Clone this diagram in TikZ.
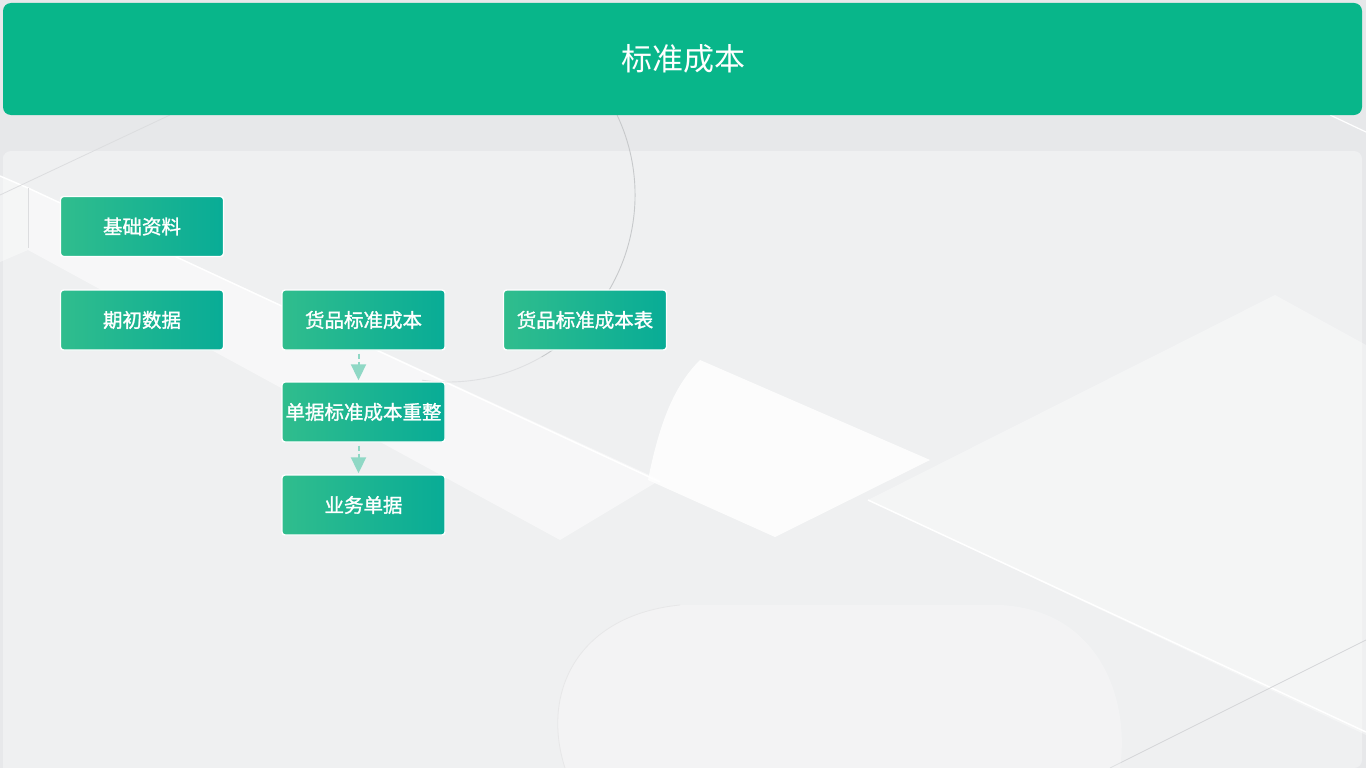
\documentclass[tikz,border=0pt]{standalone}
\usepackage{fontspec}
\usetikzlibrary{arrows.meta}
\newfontfamily\cjk{Noto Sans CJK SC}
\newfontfamily\cjkb[FakeBold=1.3]{Noto Sans CJK SC}
\definecolor{bgbase}{HTML}{E7E8EA}
\definecolor{headgreen}{HTML}{08B68A}
\definecolor{boxleft}{HTML}{30BD8D}
\definecolor{boxright}{HTML}{08AC96}
\definecolor{arrowteal}{HTML}{8FD8C5}
\definecolor{arcgray}{HTML}{B9BBBE}
\tikzset{
  flowbox/.style={rectangle, rounded corners=3pt, draw=white, line width=1.4pt,
    left color=boxleft, right color=boxright, minimum width=163pt, minimum height=60pt,
    inner sep=0pt, text=white, font=\cjkb\fontsize{19.5}{23}\selectfont},
  flowarrow/.style={draw=arrowteal, line width=2pt, dash pattern=on 5pt off 3pt,
    -{Triangle[width=15pt,length=16pt,fill=arrowteal]}},
  deco/.style={fill=white, draw=none}
}
\begin{document}
\begin{tikzpicture}[x=1pt,y=-1pt]
\useasboundingbox (0,0) rectangle (1366,768);
% background
\fill[bgbase] (0,0) rectangle (1366,768);
\fill[white, opacity=0.35] (3,151) [rounded corners=8pt] -- (3,768) -- (3,151) -- (1362,151) -- (1362,768) [sharp corners] -- (3,768) -- cycle;
% white diagonal band
\fill[deco, opacity=0.5] (28,188) -- (660,480) -- (560,540) -- (28,250) -- cycle;
\fill[deco, opacity=0.4] (0,176) -- (28,188) -- (28,250) -- (0,262) -- cycle;
\draw[white, line width=1.5pt] (0,176) -- (28,188) -- (660,482);
\draw[arcgray!50, line width=0.8pt] (28,188) -- (28,248);
\draw[arcgray!50, line width=0.8pt] (170,115) -- (0,195);
% bright diamond
\fill[deco, opacity=0.85] (648,480) .. controls (660,420) and (675,385) .. (700,360) -- (930,460) -- (775,537) -- cycle;
% big right rhombus
\fill[deco, opacity=0.35] (868,500) -- (1275,295) -- (1366,345) -- (1366,735) -- cycle;
\draw[white, line width=1.5pt] (868,500) -- (1366,732);
\draw[arcgray!60, line width=0.8pt] (1366,640) -- (1110,768);
\draw[white, line width=1.2pt] (1330,115) -- (1366,132);
% bottom rounded shape
\fill[white, opacity=0.25] (565,768) .. controls (540,690) and (580,615) .. (680,605) -- (1000,605) .. controls (1100,610) and (1130,700) .. (1120,768) -- cycle;
\draw[arcgray!35, line width=0.8pt] (565,768) .. controls (540,690) and (580,615) .. (680,605);
% circle arc
\coordinate (arcstart) at (617.1,115.1);
\draw[arcgray!80, line width=0.9pt] (arcstart) arc[start angle=-25.3, end angle=60, radius=187];
\draw[arcgray!45, line width=0.9pt] (448,195) ++(60:187) arc[start angle=60, end angle=98, radius=187];
% header
\fill[headgreen] (3,3) [rounded corners=8pt] rectangle (1362,115);
\node (title) at (683,59) {\cjk\fontsize{31}{36}\selectfont\color{white}标准成本};
% boxes
\node[flowbox] (jc) at (142,226.5) {基础资料};
\node[flowbox] (qc) at (142,320) {期初数据};
\node[flowbox] (hp) at (363.5,320) {货品标准成本};
\node[flowbox] (hpb) at (585,320) {货品标准成本表};
\node[flowbox] (dj) at (363.5,412) {单据标准成本重整};
\node[flowbox] (yw) at (363.5,505) {业务单据};
% arrows
\draw[flowarrow] ([xshift=-5pt,yshift=-3pt]hp.south) -- ([xshift=-5pt,yshift=1pt]dj.north);
\draw[flowarrow] ([xshift=-5pt,yshift=-3pt]dj.south) -- ([xshift=-5pt,yshift=1pt]yw.north);
\end{tikzpicture}
\end{document}
